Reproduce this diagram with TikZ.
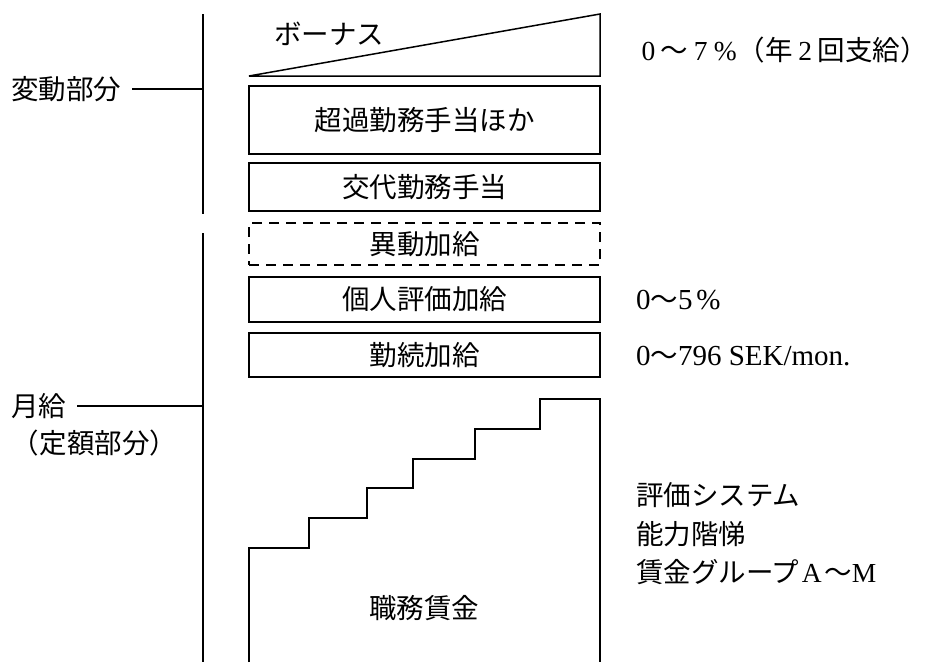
\documentclass[tikz,border=0pt]{standalone}
\usepackage{fontspec}
\setmainfont{Noto Sans CJK JP}
\newfontfamily\serifnum{Liberation Serif}
\newcommand{\fwd}[1]{\makebox[0.9em]{\serifnum #1}}
\begin{document}
\begin{tikzpicture}[x=1pt,y=-1pt,line width=1.5pt,line join=miter,
  txt/.style={inner sep=0pt,outer sep=0pt,font=\fontsize{27.5}{33}\selectfont,text height=22.8pt,text depth=2pt},
  box/.style={draw,rectangle,minimum width=351pt,txt},
  dbox/.style={box,dash pattern=on 10pt off 7pt},
  lab/.style={txt,anchor=west}]
\useasboundingbox (0,0) rectangle (933,662);

% vertical axis
\coordinate (vtop) at (203,14);
\coordinate (vmida) at (203,214);
\coordinate (vmidb) at (203,233);
\coordinate (vbot) at (203,662);
\draw (vtop) -- (vmida);
\draw (vmidb) -- (vbot);

% left labels
\node[lab] (hendo) at (11,89) {変動部分};
\draw ([xshift=11pt]hendo.east) -- (hendo.east -| vtop);
\node[lab] (gekkyu) at (11,406) {月給};
\draw ([xshift=11pt]gekkyu.east) -- (gekkyu.east -| vtop);
\node[lab] (teigaku) at (12,443) {（定額部分）};

% bonus triangle
\coordinate (ta) at (249,76);
\coordinate (tb) at (600,14);
\coordinate (tc) at (600,76);
\draw (ta) -- (tb) -- (tc) -- cycle;
\node[lab] (bonus) at (274,34) {ボーナス};

% boxes
\node[box,minimum height=68pt] (b1) at (424.5,120) {超過勤務手当ほか};
\node[box,minimum height=48pt] (b2) at (424.5,187) {交代勤務手当};
\node[dbox,minimum height=42pt] (b3) at (424.5,244) {異動加給};
\node[box,minimum height=45pt] (b4) at (424.5,299.5) {個人評価加給};
\node[box,minimum height=44pt] (b5) at (424.5,355) {勤続加給};

% staircase
\draw (249,662) -- (249,548) -- (309,548) -- (309,518) -- (367,518) -- (367,488)
  -- (413,488) -- (413,459) -- (475,459) -- (475,429) -- (540,429) -- (540,399)
  -- (600,399) -- (600,662);
\node[txt] (shokumu) at (424,608) {職務賃金};

% right labels
\node[lab] (r1) at (636,50) {\fwd{0}～\fwd{7}\fwd{\%}（年\fwd{2}回支給）};
\node[lab] (r2) at (636,299) {{\serifnum\fontsize{29}{33}\selectfont 0}～{\serifnum\fontsize{29}{33}\selectfont 5\hspace{4pt}\%}};
\node[lab] (r3) at (636,355) {{\serifnum\fontsize{29}{33}\selectfont 0}～{\serifnum\fontsize{29}{33}\selectfont 796 SEK/mon.}};
\node[lab] (r4) at (636,495) {評価システム};
\node[lab] (r5) at (636,534) {能力階悌};
\node[lab] (r6) at (636,572) {賃金グループ\fwd{A}～\fwd{M}};
\end{tikzpicture}
\end{document}
